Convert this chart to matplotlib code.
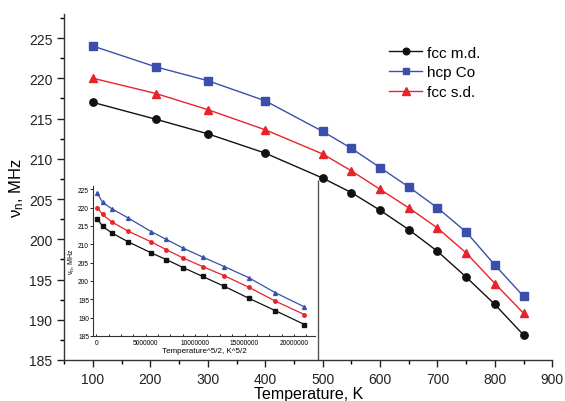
import matplotlib
matplotlib.use("Agg")
import matplotlib.pyplot as plt
from matplotlib.ticker import MultipleLocator
import numpy as np

plt.rcParams['font.family'] = ['Liberation Sans', 'DejaVu Sans']
plt.rcParams['mathtext.fontset'] = 'custom'
plt.rcParams['mathtext.rm'] = 'Liberation Sans'
plt.rcParams['mathtext.it'] = 'Liberation Sans:italic'

# temperatures (K) and frequencies (MHz)
temperature = [100, 210, 300, 400, 500, 550, 600, 650, 700, 750, 800, 850]
fcc_md = [217.0, 214.9, 213.1, 210.7, 207.6, 205.8, 203.6, 201.2, 198.5, 195.3, 191.9, 188.1]
hcp_co = [224.0, 221.4, 219.7, 217.2, 213.4, 211.3, 208.9, 206.5, 203.9, 200.9, 196.8, 192.9]
fcc_sd = [220.0, 218.1, 216.1, 213.6, 210.6, 208.5, 206.2, 203.9, 201.4, 198.3, 194.5, 190.8]

series_labels = ['fcc m.d.', 'hcp Co', 'fcc s.d.']
black = '#111111'
blue = '#3a4fab'
red = '#e8232a'

fig = plt.figure(figsize=(5.65, 4.02), dpi=100)
ax = fig.add_axes([0.1138, 0.102, 0.8637, 0.861])

ax.plot(temperature, fcc_md, '-o', color=black, lw=1, ms=5.3, label=series_labels[0])
ax.plot(temperature, hcp_co, '-s', color=blue, lw=1, ms=5.3, label=series_labels[1])
ax.plot(temperature, fcc_sd, '-^', color=red, lw=1, ms=5.8, label=series_labels[2])

ax.set_xlim(50, 900)
ax.set_ylim(185, 228)
ax.xaxis.set_major_locator(MultipleLocator(100))
ax.xaxis.set_minor_locator(MultipleLocator(50))
ax.yaxis.set_major_locator(MultipleLocator(5))
ax.yaxis.set_minor_locator(MultipleLocator(2.5))
ax.tick_params(which='major', direction='out', length=5, width=1, labelsize=10, colors='#222222')
ax.tick_params(which='minor', direction='out', length=3, width=1)
for side in ['top', 'right']:
    ax.spines[side].set_visible(False)
for side in ['left', 'bottom']:
    ax.spines[side].set_linewidth(1)
    ax.spines[side].set_color('#333333')

ax.set_xlabel('Temperature, K', fontsize=11.5, labelpad=0)
ax.set_ylabel(r'$\mathregular{\nu_n}$, MHz', fontsize=12, labelpad=2)

# thin drop line under the 500 K point
ax.vlines(492, 185, 207.4, color='#555555', lw=1)

ax.legend(loc='upper left', bbox_to_anchor=(0.688, 0.884), bbox_transform=fig.transFigure,
          frameon=False, fontsize=11, handlelength=2.2, handletextpad=0.3,
          labelspacing=0.38, borderpad=0, borderaxespad=0, markerscale=0.9)

# inset: same data against T^(5/2)
t52 = np.array(temperature, dtype=float) ** 2.5
ins = fig.add_axes([0.165, 0.162, 0.392, 0.374])
ins.plot(t52, fcc_md, '-s', color=black, lw=0.9, ms=2.5)
ins.plot(t52, fcc_sd, '-o', color=red, lw=0.9, ms=2.5)
ins.plot(t52, hcp_co, '-^', color=blue, lw=0.9, ms=2.8)
ins.set_xlim(-0.3e6, 22.1e6)
ins.set_ylim(185, 226)
ins.xaxis.set_major_locator(MultipleLocator(5e6))
ins.xaxis.set_minor_locator(MultipleLocator(1.25e6))
ins.yaxis.set_major_locator(MultipleLocator(5))
ins.ticklabel_format(axis='x', style='plain', useOffset=False)
ins.tick_params(axis='x', which='both', direction='in', length=1.5, width=0.6, labelsize=4.8, pad=2)
ins.tick_params(axis='y', which='both', direction='out', length=2, width=0.6, labelsize=4.8, pad=1)
for side in ['top', 'right']:
    ins.spines[side].set_visible(False)
for side in ['left', 'bottom']:
    ins.spines[side].set_linewidth(0.8)
    ins.spines[side].set_color('#333333')
ins.set_xlabel('Temperature^5/2, K^5/2', fontsize=5.8, labelpad=1)
ins.set_ylabel(r'$\mathregular{\nu_n}$, MHz', fontsize=5, labelpad=1)
ins.patch.set_alpha(0)

fig.savefig('out.png', dpi=100)
